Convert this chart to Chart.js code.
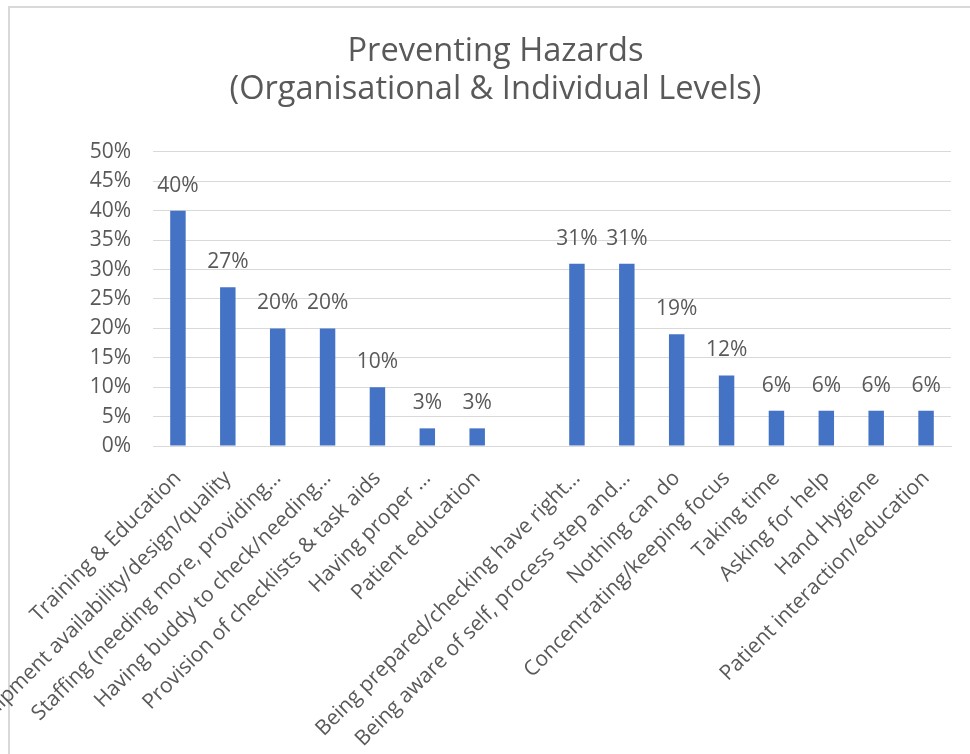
<!DOCTYPE html>
<html>
<head>
<meta charset="utf-8">
<script src="https://cdn.jsdelivr.net/npm/chart.js@4/dist/chart.umd.min.js"></script>
<style>
  html, body { margin: 0; padding: 0; background: #ffffff; }
  #wrap { width: 970px; height: 754px; position: relative; }
</style>
</head>
<body>
<div id="wrap"><canvas id="chart" width="970" height="754"></canvas></div>
<script>
// Survey responses: ways of preventing hazards, grouped by level.
// An empty category separates the organisational and individual groups.
const organisationalLabels = [
  'Training & Education',
  'Equipment availability/design/quality',
  'Staffing (needing more, providing…',
  'Having buddy to check/needing…',
  'Provision of checklists & task aids',
  'Having proper …',
  'Patient education'
];
const organisationalValues = [40, 27, 20, 20, 10, 3, 3];

const individualLabels = [
  'Being prepared/checking have right…',
  'Being aware of self, process step and…',
  'Nothing can do',
  'Concentrating/keeping focus',
  'Taking time',
  'Asking for help',
  'Hand Hygiene',
  'Patient interaction/education'
];
const individualValues = [31, 31, 19, 12, 6, 6, 6, 6];

const yTicks = [0, 5, 10, 15, 20, 25, 30, 35, 40, 45, 50];

const categories = [...organisationalLabels, '', ...individualLabels];
const values = [...organisationalValues, null, ...individualValues];

const TEXT = '#595959';
const GRID = '#D9D9D9';
const FONT = '"Open Sans", Lato, sans-serif';

// Value labels drawn above each bar
const valueLabels = {
  id: 'valueLabels',
  afterDatasetsDraw(chart) {
    const ctx = chart.ctx;
    const meta = chart.getDatasetMeta(0);
    ctx.save();
    ctx.font = '21px ' + FONT;
    ctx.fillStyle = TEXT;
    ctx.textAlign = 'center';
    ctx.textBaseline = 'alphabetic';
    meta.data.forEach((bar, i) => {
      const v = chart.data.datasets[0].data[i];
      if (v === null || v === undefined) return;
      ctx.fillText(v + '%', bar.x, bar.y - 19);
    });
    ctx.restore();
  }
};

// Light frame around the chart area edge
const frame = {
  id: 'frame',
  beforeDraw(chart) {
    const ctx = chart.ctx;
    ctx.save();
    ctx.fillStyle = '#ffffff';
    ctx.fillRect(0, 0, chart.width, chart.height);
    ctx.strokeStyle = GRID;
    ctx.lineWidth = 2;
    ctx.beginPath();
    ctx.moveTo(9, chart.height + 2);
    ctx.lineTo(9, 7);
    ctx.lineTo(chart.width + 2, 7);
    ctx.stroke();
    ctx.restore();
  }
};

new Chart(document.getElementById('chart'), {
  type: 'bar',
  data: {
    labels: categories,
    datasets: [{
      data: values,
      backgroundColor: '#4472C4',
      borderWidth: 0,
      barPercentage: 0.31,
      categoryPercentage: 1.0
    }]
  },
  options: {
    responsive: false,
    animation: false,
    layout: { padding: { left: 40, right: 19, top: 0, bottom: 0 } },
    plugins: {
      legend: { display: false },
      tooltip: { enabled: false },
      title: {
        display: true,
        text: ['Preventing Hazards', '(Organisational & Individual Levels)'],
        color: TEXT,
        font: { family: FONT, size: 32.6, weight: 'normal', lineHeight: 1.17 },
        padding: { top: 33, bottom: 42.7 }
      }
    },
    scales: {
      x: {
        grid: { display: false, drawTicks: false },
        border: { color: GRID, width: 1 },
        ticks: {
          color: TEXT,
          font: { family: FONT, size: 21 },
          maxRotation: 45,
          minRotation: 45,
          autoSkip: false,
          padding: 20
        },
        afterFit(s) {
          s.height = 754 - 446;
          s.paddingLeft = 0;
          s.paddingRight = 0;
        }
      },
      y: {
        min: 0,
        max: 50,
        afterBuildTicks(s) {
          s.ticks = yTicks.map(v => ({ value: v }));
        },
        grid: { color: GRID, lineWidth: 1, drawTicks: false },
        border: { display: false },
        ticks: {
          color: TEXT,
          font: { family: FONT, size: 21 },
          padding: 22,
          callback: v => v + '%'
        },
        afterFit(s) {
          s.width = 113;
        }
      }
    }
  },
  plugins: [frame, valueLabels]
});
</script>
</body>
</html>
